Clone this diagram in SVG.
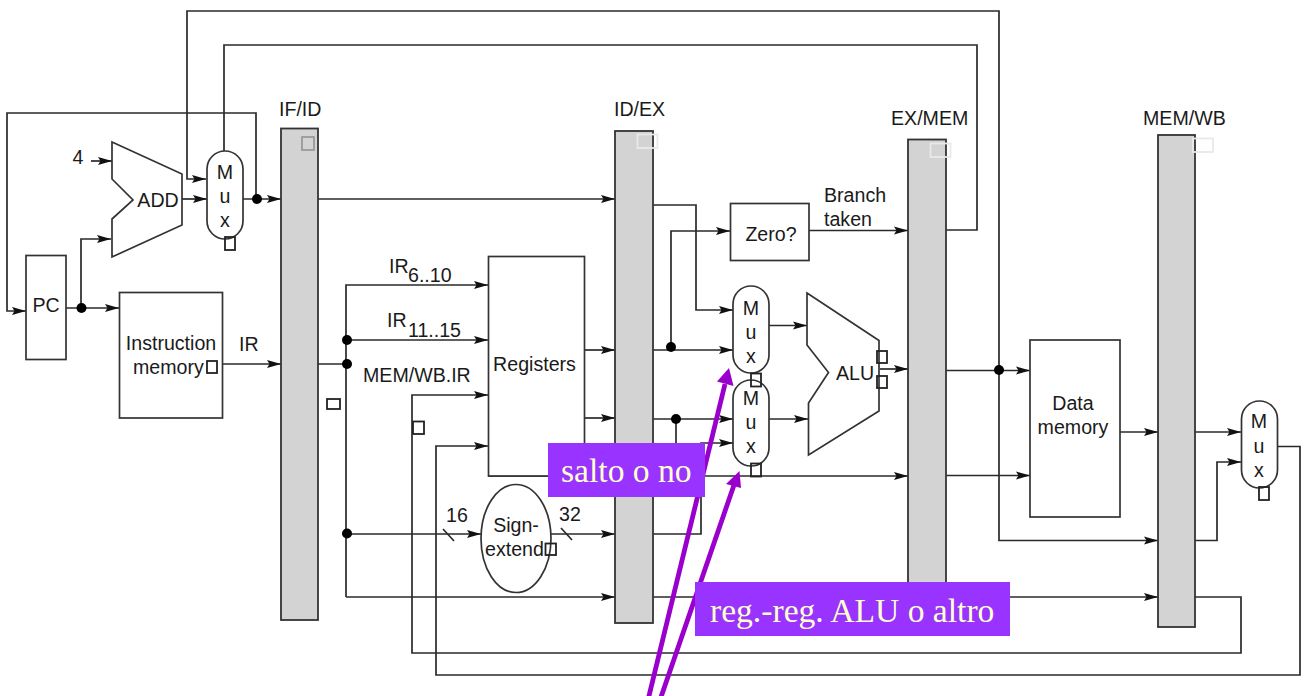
<svg xmlns="http://www.w3.org/2000/svg" width="1304" height="696" viewBox="0 0 1304 696">
<style>
text{font-family:"Liberation Sans",Arial,sans-serif;font-size:19.600px;fill:#1a1a1a}
.c{text-anchor:middle}
.b{fill:#fff;stroke:#333;stroke-width:1.700}
.bar{fill:#d3d3d3;stroke:#333;stroke-width:1.800}
.sq{fill:none;stroke:#222;stroke-width:1.800}
.pale{fill:none;stroke:#e9e9e9;stroke-width:1.800}
.w{fill:none;stroke:#2a2a2a;stroke-width:1.700}
.a{marker-end:url(#ah)}
.dot{fill:#000}
.pl{fill:#9933ff}
.pt{font-family:"Liberation Serif","Times New Roman",serif;font-size:33.600px;fill:#ffffcc}
.pa{fill:none;stroke:#9900cc;stroke-width:4.800}
</style>
<defs>
<marker id="ah" markerUnits="userSpaceOnUse" markerWidth="15" markerHeight="10" refX="14" refY="5" orient="auto"><path d="M0,1 L14,5 L0,9 L2.500,5 Z" fill="#111"/></marker>
</defs>
<rect width="1304" height="696" fill="#fff"/>
<g id="connectors">
<path class="w a" d="M999,370 V11 H187 V179 H206"/>
<path class="w" d="M224,151 V45 H977 V230 H946"/>
<path class="w a" d="M256,199 V113 H7 V311 H26"/>
<path class="w a" d="M91,161 H112"/>
<path class="w a" d="M81,308 V239 H111"/>
<path class="w a" d="M66,308 H119"/>
<path class="w a" d="M182,199 H207"/>
<path class="w a" d="M243,199 H281"/>
<path class="w a" d="M222,364 H281"/>
<path class="w a" d="M318,199 H615"/>
<path class="w a" d="M318,364 H346 M346,597 V285 H488"/>
<path class="w a" d="M346,340 H488"/>
<path class="w a" d="M346,534 H481"/>
<path class="w a" d="M346,597 H615"/>
<path class="w a" d="M1195,597 H1241 V653 H412 V395 H488"/>
<path class="w a" d="M653,597 H1158"/>
<path class="w a" d="M1277,446.500 H1300 V675 H436 V446 H488"/>
<path class="w a" d="M584,350 H615"/>
<path class="w a" d="M584,418 H615"/>
<path class="w a" d="M488,476 H908"/>
<path class="w a" d="M653,350 H733"/>
<path class="w a" d="M671,350 V231 H730"/>
<path class="w a" d="M653,205 H696 V310 H733"/>
<path class="w a" d="M653,419 H733"/>
<path class="w" d="M676,419 V476"/>
<path class="w a" d="M551,534 H615"/>
<path class="w a" d="M653,534 H701 V443 H733"/>
<path class="w" d="M443,529 L454,541 M561,528 L572,540"/>
<path class="w a" d="M809,230.500 H908"/>
<path class="w a" d="M769,325.500 H807"/>
<path class="w a" d="M769,419 H808"/>
<path class="w a" d="M880,369 H908"/>
<path class="w a" d="M946,370.500 H1030"/>
<path class="w a" d="M946,475.500 H1030"/>
<path class="w a" d="M999,370 V540.500 H1158"/>
<path class="w a" d="M1120,432 H1158"/>
<path class="w a" d="M1195,432 H1241"/>
<path class="w a" d="M1195,540.500 H1217 V462 H1241"/>
</g>
<g id="pc"><rect class="b" x="26" y="255.500" width="40" height="104"/><text class="c" x="46" y="312">PC</text></g>
<g id="add"><path class="b" d="M112,142 L182,174 V225 L112,257 V219 L133,200 L112,179 Z"/><text class="c" x="158" y="207">ADD</text><text class="c" x="78" y="164">4</text></g>
<g id="mux-pc"><rect class="b" x="207" y="151" width="36" height="88" rx="18"/><text class="c" x="225" y="179">M</text><text class="c" x="225" y="203">u</text><text class="c" x="225" y="227">x</text><rect class="sq" x="225" y="237" width="10" height="13"/></g>
<g id="instruction-memory"><rect class="b" x="119.500" y="292.500" width="103" height="125.500"/><text class="c" x="171" y="350">Instruction</text><text x="133" y="374">memory</text><rect class="sq" x="207" y="361" width="10" height="12"/><text x="239" y="351">IR</text></g>
<g id="if-id"><rect class="bar" x="281" y="128.500" width="37" height="491.500"/><rect x="302" y="137" width="12" height="13" fill="none" stroke="#999" stroke-width="1.800"/><text x="279" y="116">IF/ID</text></g>
<rect class="sq" x="327" y="399" width="13" height="10"/>
<g id="registers"><rect class="b" x="488.500" y="256.500" width="96" height="219.500"/><text class="c" x="534.500" y="371">Registers</text></g>
<g id="wire-labels">
<text x="389" y="273">IR</text><text x="408" y="282">6..10</text>
<text x="387" y="327">IR</text><text x="408" y="337">11..15</text>
<text x="363" y="382">MEM/WB.IR</text>
<rect class="sq" x="413" y="421.500" width="11" height="12.500"/>
<text x="446" y="522">16</text><text x="559" y="521">32</text>
<text x="824" y="202">Branch</text><text x="824" y="226">taken</text>
</g>
<g id="sign-extend"><ellipse class="b" cx="516" cy="538.500" rx="35" ry="54"/><text class="c" x="516" y="532">Sign-</text><text x="485" y="556">extend</text><rect class="sq" x="545.500" y="543.500" width="10.500" height="11.500"/></g>
<g id="id-ex"><rect class="bar" x="615" y="131" width="38" height="492"/><rect class="pale" x="637.500" y="134.500" width="20" height="13.500"/><text x="614" y="116">ID/EX</text></g>
<g id="zero"><rect class="b" x="730.500" y="203.500" width="78.500" height="57"/><text class="c" x="771" y="241">Zero?</text></g>
<g id="mux-a"><rect class="b" x="733" y="286" width="36" height="87" rx="18"/><text class="c" x="751" y="315">M</text><text class="c" x="751" y="339">u</text><text class="c" x="751" y="363">x</text></g>
<g id="mux-b"><rect class="b" x="733" y="380" width="36" height="86" rx="18"/><text class="c" x="751" y="405">M</text><text class="c" x="751" y="429">u</text><text class="c" x="751" y="453">x</text><rect class="sq" x="751" y="373.500" width="10" height="13"/><rect class="sq" x="751" y="463.500" width="10" height="13"/></g>
<g id="alu"><path class="b" d="M807,293 L879,340.500 V411 L808.500,455 V403 L828.500,372.500 L807,345 Z"/><text x="836" y="380">ALU</text><rect class="sq" x="877" y="351" width="10" height="12"/><rect class="sq" x="877" y="376" width="10" height="12"/></g>
<g id="ex-mem"><rect class="bar" x="908" y="139.500" width="38" height="480"/><rect class="pale" x="930.500" y="143.500" width="20" height="13.500"/><text x="891" y="125">EX/MEM</text></g>
<g id="data-memory"><rect class="b" x="1030" y="340" width="90" height="177"/><text class="c" x="1073" y="410">Data</text><text class="c" x="1073" y="434">memory</text></g>
<g id="mem-wb"><rect class="bar" x="1158" y="135" width="37" height="492"/><rect class="pale" x="1193" y="138.500" width="20" height="13.500"/><text x="1143" y="125">MEM/WB</text></g>
<g id="mux-wb"><rect class="b" x="1241.500" y="401" width="36" height="87" rx="18"/><text class="c" x="1259" y="428">M</text><text class="c" x="1259" y="453">u</text><text class="c" x="1259" y="477">x</text><rect class="sq" x="1259" y="487" width="10" height="13"/></g>
<g id="dots">
<circle class="dot" cx="257" cy="199" r="5"/><circle class="dot" cx="81.500" cy="308" r="5"/>
<circle class="dot" cx="347" cy="340" r="5"/><circle class="dot" cx="347" cy="364" r="5"/><circle class="dot" cx="347" cy="533.500" r="5"/>
<circle class="dot" cx="671" cy="347" r="5"/><circle class="dot" cx="676" cy="419" r="5"/><circle class="dot" cx="999" cy="370" r="5"/>
</g>
<g id="annotation-arrows">
<path class="pa" d="M648,700 L725,384"/><path fill="#9900cc" d="M729,368 L733.500,386 L717,381.500 Z"/>
<path class="pa" d="M660,700 L734,485"/><path fill="#9900cc" d="M739.500,471 L741,488 L726,484 Z"/>
</g>
<g id="label-salto"><rect class="pl" x="548" y="443" width="157" height="54"/><text class="pt" x="561" y="482">salto o no</text></g>
<g id="label-reg"><rect class="pl" x="695" y="582" width="315" height="54"/><text class="pt" x="710" y="622">reg.-reg. ALU o altro</text></g>
</svg>
